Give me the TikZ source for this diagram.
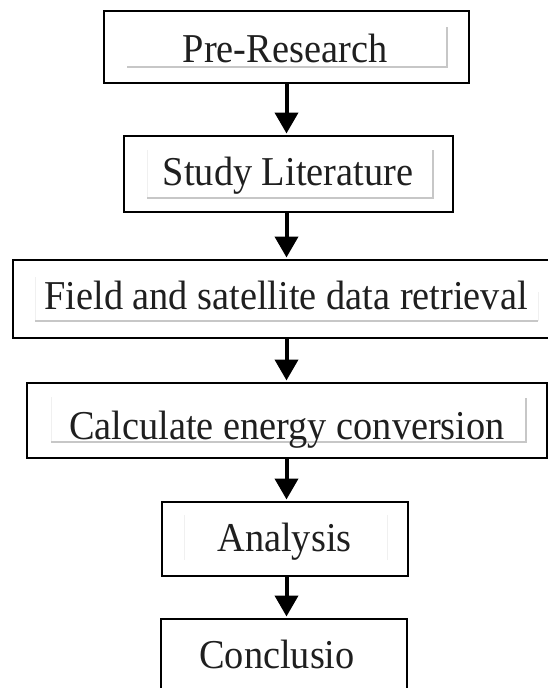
\documentclass[tikz,border=0pt]{standalone}
\usepackage{fontspec}
\setmainfont{Liberation Serif}
\usetikzlibrary{arrows.meta}
\newcommand{\sq}[1]{\scalebox{0.935}[1]{#1}}
\tikzset{
  x=1pt, y=-1pt,
  box/.style={draw=black, line width=2.2pt, rectangle, inner sep=0pt, outer sep=0pt},
  lbl/.style={anchor=base, inner sep=0pt, font=\fontsize{41}{43}\selectfont, text=black!88},
  flow/.style={line width=4pt, shorten >=2.5pt, -{Triangle[width=23pt,length=21pt]}},
  ghost/.style={draw=black!22, line width=1.2pt},
  faint/.style={draw=black!6, line width=1pt}
}
\begin{document}
\begin{tikzpicture}
\useasboundingbox (0,0) rectangle (548,688);
\clip (0,0) rectangle (548,688);
% boxes
\node[box, minimum width=365pt, minimum height=72pt] (b1) at (286.5,47) {};
\node[box, minimum width=329pt, minimum height=76pt] (b2) at (288.5,174) {};
\node[box, minimum width=546pt, minimum height=78pt] (b3) at (286,299) {};
\node[box, minimum width=520pt, minimum height=75pt] (b4) at (287,420.5) {};
\node[box, minimum width=246pt, minimum height=74pt] (b5) at (285,539) {};
\node[box, minimum width=246pt, minimum height=76pt] (b6) at (284,657) {};
% faint frame remnants
\draw[ghost] (127,67) -- (447,67) -- (447,27);
\draw[faint] (147,150) -- (147,198);
\draw[ghost] (147,198) -- (433,198) -- (433,150);
\draw[faint] (35,277) -- (35,321);
\draw[ghost] (35,321) -- (538,321);
\draw[faint] (538,321) -- (538,292);
\draw[faint] (51,397) -- (51,442);
\draw[ghost] (51,442) -- (526,442) -- (526,398);
\draw[faint] (184,515) -- (184,560);
\draw[faint] (387,515) -- (387,560);
% labels
\node[lbl] (t1) at (285,62) {\sq{Pre-Research}};
\node[lbl] (t2) at (288,185) {\sq{Study Literature}};
\node[lbl] (t3) at (286,309) {\sq{Field and satellite data retrieval}};
\node[lbl] (t4) at (287,439) {\sq{Calculate energy conversion}};
\node[lbl] (t5) at (284.5,551) {\sq{Analysis}};
\node[lbl] (t6) at (277,668) {\sq{Conclusio}};
% connectors
\coordinate (ax) at (286.5,0);
\draw[flow] (b1.south -| ax) -- (b2.north -| ax);
\draw[flow] (b2.south -| ax) -- (b3.north -| ax);
\draw[flow] (b3.south -| ax) -- (b4.north -| ax);
\draw[flow] (b4.south -| ax) -- (b5.north -| ax);
\draw[flow] (b5.south -| ax) -- (b6.north -| ax);
\end{tikzpicture}
\end{document}
